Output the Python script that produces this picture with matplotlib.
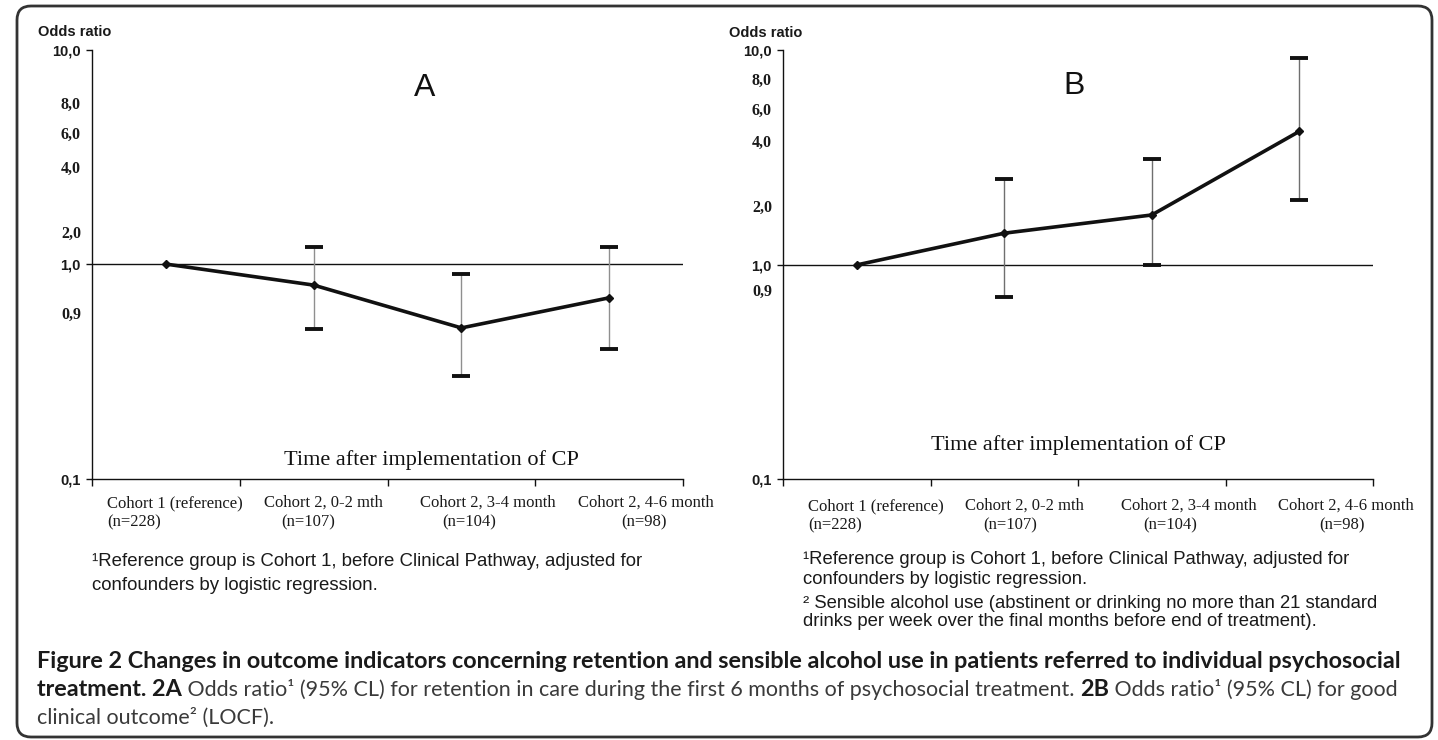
import numpy as np
import matplotlib
matplotlib.use("Agg")
import matplotlib.pyplot as plt
from matplotlib.patches import FancyBboxPatch
from matplotlib.transforms import IdentityTransform

# data
cohorts = ["Cohort 1 (reference)", "Cohort 2, 0-2 mth", "Cohort 2, 3-4 month", "Cohort 2, 4-6 month"]
n_sizes = ["(n=228)", "(n=107)", "(n=104)", "(n=98)"]

or_a = [1.0, 0.957, 0.828, 0.931]
lo_a = [1.0, 0.823, 0.596, 0.727]
hi_a = [1.0, 1.53, 0.98, 1.53]

or_b = [1.0, 1.54, 1.85, 4.6]
lo_b = [1.0, 0.87, 1.0, 2.18]
hi_b = [1.0, 2.83, 3.45, 9.45]

ytick_vals = [0.1, 0.9, 1.0, 2.0, 4.0, 6.0, 8.0, 10.0]
ytick_labels = ["0,1", "0,9", "1,0", "2,0", "4,0", "6,0", "8,0", "10,0"]

# the original axis is hand-spaced, so map tick values to axis positions
pos_a = [0.0, 0.387, 0.501, 0.576, 0.727, 0.807, 0.876, 1.0]
pos_b = [0.0, 0.441, 0.499, 0.636, 0.788, 0.862, 0.932, 1.0]

SERIF = "Liberation Serif"
SANS = "Liberation Sans"
CAP = "Lato"

fig = plt.figure(figsize=(14.38, 7.40), dpi=100)
W, H = 1438, 740


def draw_panel(rect, vals, lo, hi, pos, letter, letter_xy, time_xy, ecolor,
               lab_off, n_off, lab_y, odds_xy):
    ax = fig.add_axes(rect)
    fwd = lambda v: np.interp(v, ytick_vals, pos)
    inv = lambda p: np.interp(p, pos, ytick_vals)
    ax.set_yscale("function", functions=(fwd, inv))
    ax.set_ylim(0.1, 10.0)
    ax.set_xlim(-0.5, 3.5)

    x = np.arange(len(vals))
    v = np.array(vals[1:])
    yerr = [v - np.array(lo[1:]), np.array(hi[1:]) - v]
    eb = ax.errorbar(x[1:], v, yerr=yerr, fmt="none", ecolor=ecolor,
                     elinewidth=1.0, capsize=6.5, capthick=2.8, zorder=2)
    for cap in eb[1]:
        cap.set_color("#111111")
        cap.set_markeredgecolor("#111111")
        cap.set_markerfacecolor("#111111")
    ax.axhline(1.0, color="#111111", lw=1.0, zorder=1)
    ax.plot(x, vals, color="#111111", lw=2.6, marker="D", markersize=4.5, zorder=3)

    for s in ["top", "right"]:
        ax.spines[s].set_visible(False)
    for s in ["left", "bottom"]:
        ax.spines[s].set_linewidth(1.0)
        ax.spines[s].set_color("#111111")

    ax.set_xticks([-0.5, 0.5, 1.5, 2.5, 3.5])
    ax.set_xticklabels([])
    ax.tick_params(axis="x", direction="out", length=5, width=1, color="#111111")
    ax.set_yticks(ytick_vals)
    ax.set_yticklabels(ytick_labels)
    ax.tick_params(axis="y", direction="out", length=4, width=1, pad=4, color="#111111")
    ax.yaxis.set_minor_locator(matplotlib.ticker.NullLocator())
    for t, lab in zip(ax.yaxis.get_major_ticks(), ytick_labels):
        if lab in ("10,0", "1,0", "0,1"):
            t.label1.set_fontfamily(SANS)
            t.label1.set_fontsize(10.5)
        else:
            t.label1.set_fontfamily(SERIF)
            t.label1.set_fontsize(11.5)
            t.tick1line.set_visible(False)
        t.label1.set_fontweight("bold")
        t.label1.set_color("#1a1a1a")

    # category labels, two lines each
    for i in range(len(cohorts)):
        ax.annotate(cohorts[i], xy=(i, 0), xycoords=("data", "axes fraction"),
                    xytext=(lab_off[i], lab_y[0]), textcoords="offset pixels",
                    ha="left", va="center", family=SERIF, fontsize=12, color="#1a1a1a")
        ax.annotate(n_sizes[i], xy=(i, 0), xycoords=("data", "axes fraction"),
                    xytext=(n_off[i], lab_y[1]), textcoords="offset pixels",
                    ha="left", va="center", family=SERIF, fontsize=12, color="#1a1a1a")

    fig.text(letter_xy[0] / W, 1 - letter_xy[1] / H, letter, ha="center", va="center",
             family=SANS, fontsize=23, color="#111111")
    fig.text(time_xy[0] / W, 1 - time_xy[1] / H, "Time after implementation of CP",
             ha="center", va="center", family=SERIF, fontsize=16, color="#111111")
    fig.text(odds_xy[0] / W, 1 - odds_xy[1] / H, "Odds ratio", ha="left", va="center",
             family=SANS, fontsize=10.5, fontweight="bold", color="#1a1a1a")
    return ax


ax_a = draw_panel([92 / W, 1 - 479 / H, 591 / W, 429 / H], or_a, lo_a, hi_a, pos_a,
                  "A", (425, 88), (431, 460), "#8f8f8f",
                  [-59, -50, -41, -31], [-59, -32, -19, 12], [-24, -43], (38, 32))
ax_b = draw_panel([783 / W, 1 - 479 / H, 590 / W, 429 / H], or_b, lo_b, hi_b, pos_b,
                  "B", (1074, 86), (1078, 445), "#6f6f6f",
                  [-49, -39, -31, -21], [-49, -21, -9, 20], [-27, -46], (729, 33))

# footnotes
foot_a = ["\u00b9Reference group is Cohort 1, before Clinical Pathway, adjusted for",
          "confounders by logistic regression."]
foot_b = ["\u00b9Reference group is Cohort 1, before Clinical Pathway, adjusted for",
          "confounders by logistic regression.",
          "\u00b2 Sensible alcohol use (abstinent or drinking no more than 21 standard",
          "drinks per week over the final months before end of treatment)."]
for k, line in enumerate(foot_a):
    fig.text(92 / W, 1 - [562, 585][k] / H, line, ha="left", va="center",
             family=SANS, fontsize=13.4, color="#1a1a1a")
for k, line in enumerate(foot_b):
    fig.text(803 / W, 1 - [559, 579, 603, 622][k] / H, line, ha="left", va="center",
             family=SANS, fontsize=13.3, color="#1a1a1a")

# caption
bold_size = 16.8
reg_size = 15.45
fig.text(37 / W, 1 - 662 / H,
         "Figure 2 Changes in outcome indicators concerning retention and sensible alcohol use "
         "in patients referred to individual psychosocial",
         ha="left", va="center", family=CAP, fontweight="bold", fontsize=bold_size,
         color="#1a1a1a")

pieces = [("treatment. 2A", "bold"),
          (" Odds ratio\u00b9 (95% CL) for retention in care during the first 6 months of "
           "psychosocial treatment. ", "normal"),
          ("2B", "bold"),
          (" Odds ratio\u00b9 (95% CL) for good", "normal")]
prev = fig.text(37 / W, 1 - 690 / H, pieces[0][0], ha="left", va="center", family=CAP,
                fontweight="bold", fontsize=bold_size, color="#1a1a1a")
for txt, wt in pieces[1:]:
    bold = wt == "bold"
    prev = fig.add_artist(matplotlib.text.Annotation(
        txt, xy=(1, 0), xycoords=prev, xytext=(0, 0), textcoords="offset pixels",
        ha="left", va="bottom", family=CAP, fontweight=wt,
        fontsize=bold_size if bold else reg_size,
        color="#1a1a1a" if bold else "#3a3a3a", annotation_clip=False))

fig.text(37 / W, 1 - 718 / H, "clinical outcome\u00b2 (LOCF).", ha="left", va="center",
         family=CAP, fontsize=reg_size, color="#3a3a3a")

# rounded frame
frame = FancyBboxPatch((17, 3), 1415, 731, boxstyle="round,pad=0,rounding_size=14",
                       transform=IdentityTransform(), fill=False, lw=2, ec="#333333")
fig.patches.append(frame)

fig.savefig("out.png", dpi=100)
